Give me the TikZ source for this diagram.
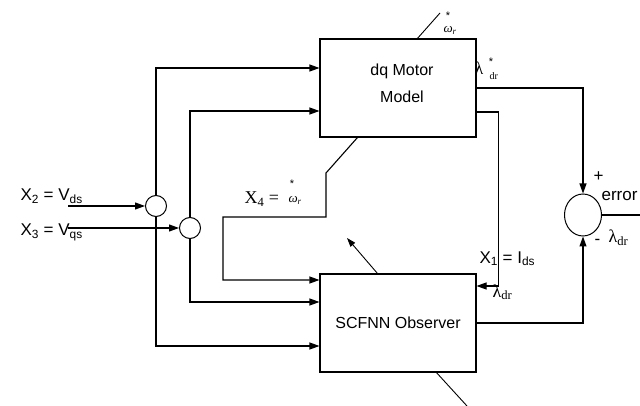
\documentclass[tikz,border=0pt]{standalone}
\usepackage{fontspec}
\setmainfont{Liberation Sans}
\newfontfamily\seriff{Liberation Serif}
\usetikzlibrary{arrows.meta,shapes.geometric,calc}
\begin{document}
\begin{tikzpicture}[x=1pt,y=-1pt,
  line width=1.1pt,
  box/.style={draw, minimum width=156pt, minimum height=98pt, inner sep=0pt, align=center, font=\fontsize{16}{27}\selectfont},
  sumc/.style={draw, circle, minimum size=21pt, inner sep=0pt, line width=1pt},
  errc/.style={draw, ellipse, minimum width=37pt, minimum height=42pt, inner sep=0pt, line width=1pt},
  arr/.style={-{Triangle[length=10pt,width=7pt]}},
  lbl/.style={font=\fontsize{17}{18}\selectfont, anchor=base west, inner sep=0pt},
  slbl/.style={font=\seriff\fontsize{18}{18}\selectfont, anchor=base west, inner sep=0pt},
  small/.style={font=\seriff\itshape\fontsize{13}{14}\selectfont, anchor=base west, inner sep=0pt},
  star/.style={font=\fontsize{11}{12}\selectfont, inner sep=0pt},
]
\useasboundingbox (0,0) rectangle (640,406);

% blocks
\node[box] (dq) at (398,88) {};
\node[font=\fontsize{16}{27}\selectfont, align=center, inner sep=0pt] (dqt) at (402,83) {dq Motor\\Model};
\node[box] (scfnn) at (398,323) {SCFNN Observer};
\node[sumc] (c1) at (156,206) {};
\node[sumc] (c2) at (190,228) {};
\node[errc] (err) at (583,215) {};

% free ends
\coordinate (in2) at (68,206);
\coordinate (in3) at (68,228);
\coordinate (out) at (640,215);
\coordinate (k1) at (326,173);
\coordinate (k2) at (326,217);
\coordinate (k3) at (223,217);
\coordinate (wtop) at (440,13);
\coordinate (wbot) at (467,406);
\coordinate (adapt) at (347,238);

% inputs
\draw[arr] (in2) -- (c1.west);
\draw[arr] (in3) -- (c2.west);
\draw[arr] (c1.north) |- ([yshift=20pt]dq.west);
\draw[arr] (c2.north) |- ([yshift=-23pt]dq.west);
\draw[arr] (c1.south) |- ([yshift=-23pt]scfnn.west);
\draw[arr] (c2.south) |- ([yshift=21pt]scfnn.west);
\draw[arr] ([xshift=38pt]dq.south west) -- (k1) -- (k2) -- (k3) |- ([yshift=43pt]scfnn.west);

% outputs
\draw[arr] (dq.east) -| (err.north);
\draw[arr] ([yshift=-24pt]dq.east) -- ++(22,0) |- ([yshift=37pt]scfnn.east);
\draw[arr] (scfnn.east) -| (err.south);
\draw (err.east) -- (out);

% slanted lines
\draw[line width=0.9pt] ([xshift=98pt]dq.north west) -- (wtop);
\draw[line width=0.9pt] ([xshift=117pt]scfnn.south west) -- (wbot);
\draw[line width=0.9pt, -{Triangle[length=9pt,width=6pt]}] ([xshift=58pt]scfnn.north west) -- (adapt);

% labels
\node[lbl] (lx2) at (20,201) {X\textsubscript{2} = V\textsubscript{ds}};
\node[lbl] (lx3) at (20,236) {X\textsubscript{3} = V\textsubscript{qs}};
\node[slbl] (lx4) at (244,204) {X\textsubscript{4} =};
\node[small] (lw4) at (288,203) {ω\textsubscript{r}};
\node[star] (sw4) at (292,184) {*};
\node[small] (lwt) at (443,33) {ω\textsubscript{r}};
\node[star] (swt) at (448,16) {*};
\node[slbl] (llr) at (474,75) {λ};
\node[star] (slr) at (491,62) {*};
\node[small, font=\seriff\fontsize{10}{12}\selectfont] (dlr) at (489,80) {dr};
\node[lbl] (lx1) at (479,263) {X\textsubscript{1} = I\textsubscript{ds}};
\node[slbl] (ll1) at (492,297) {λ\textsubscript{dr}};
\node[lbl] (lerr) at (601,201) {error};
\node[lbl] (lplus) at (593,182) {+};
\node[lbl] (lminus) at (594,244) {-};
\node[slbl] (ll2) at (608,243) {λ\textsubscript{dr}};
\end{tikzpicture}
\end{document}
